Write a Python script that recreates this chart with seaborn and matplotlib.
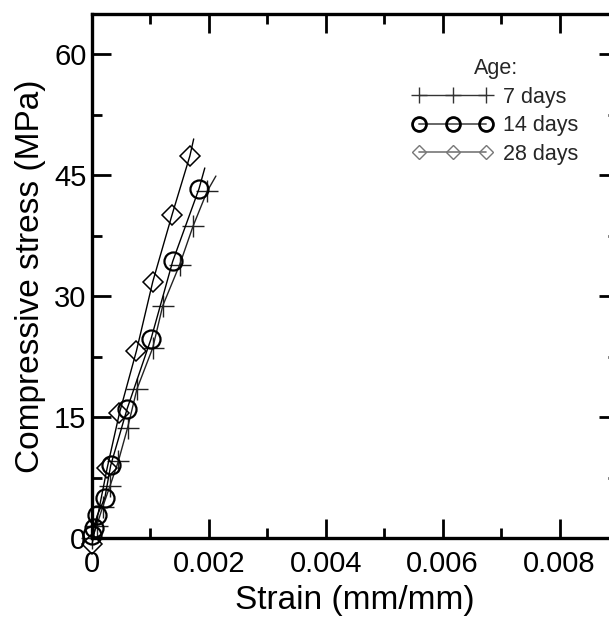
import matplotlib
matplotlib.use('Agg')
import matplotlib.pyplot as plt
import seaborn as sns
import pandas as pd
from matplotlib.lines import Line2D
from matplotlib.ticker import MultipleLocator, FixedFormatter, FixedLocator

sns.set_theme(style='ticks')
plt.rcParams['font.family'] = ['Liberation Sans', 'DejaVu Sans']

# ---- data ----
strain_7d = [0.0, 0.00008, 0.00018, 0.00031, 0.00045, 0.00061, 0.00077, 0.00104, 0.00121, 0.00150, 0.00173, 0.00197, 0.00212]
stress_7d = [0.0, 1.5, 3.8, 6.5, 9.5, 13.7, 18.5, 23.6, 28.8, 33.9, 38.7, 43.0, 44.9]

strain_14d = [0.0, 0.00003, 0.00009, 0.00022, 0.00032, 0.00060, 0.00101, 0.00138, 0.00183, 0.00193]
stress_14d = [0.4, 1.3, 2.8, 5.0, 9.0, 16.0, 24.7, 34.3, 43.3, 45.9]

strain_28d = [0.0, 0.00026, 0.00047, 0.00076, 0.00104, 0.00137, 0.001675, 0.00174]
stress_28d = [-0.8, 8.7, 15.5, 23.2, 31.8, 40.1, 47.4, 49.5]

age_labels = ['7 days', '14 days', '28 days']
x_ticks = [0, 0.002, 0.004, 0.006, 0.008]
x_ticklabels = ['0', '0.002', '0.004', '0.006', '0.008']
y_ticks = [0, 15, 30, 45, 60]
y_ticklabels = ['0', '15', '30', '45', '60']

fig = plt.figure(figsize=(6.09, 6.17), dpi=100)
ax = fig.add_axes([92/609, 1 - 538/617, (618-92)/609, (538-14)/617])

def draw(xs, ys, marker, ms, mew, color, mfc):
    df = pd.DataFrame({'x': xs, 'y': ys})
    sns.lineplot(data=df, x='x', y='y', ax=ax, sort=False, estimator=None,
                 color=color, lw=1.0, marker=marker, markersize=ms,
                 markeredgewidth=mew, markeredgecolor=color, markerfacecolor=mfc,
                 markevery=list(range(len(xs) - 1)), clip_on=False, legend=False)

draw(strain_7d, stress_7d, '+', 16, 1.0, '#222222', 'none')
draw(strain_14d, stress_14d, 'o', 13, 1.6, 'black', 'none')
draw(strain_28d, stress_28d, 'D', 10, 1.1, 'black', 'none')

ax.set_xlim(0, 0.009)
ax.set_ylim(0, 65)
ax.xaxis.set_major_locator(FixedLocator(x_ticks))
ax.xaxis.set_major_formatter(FixedFormatter(x_ticklabels))
ax.xaxis.set_minor_locator(MultipleLocator(0.001))
ax.yaxis.set_major_locator(FixedLocator(y_ticks))
ax.yaxis.set_major_formatter(FixedFormatter(y_ticklabels))
ax.yaxis.set_minor_locator(MultipleLocator(7.5))

for s in ax.spines.values():
    s.set_linewidth(2.4)
    s.set_color('black')
    s.set_visible(True)
ax.tick_params(which='both', direction='in', top=True, right=True, colors='black', width=2.0)
ax.tick_params(which='major', length=14, labelsize=21)
ax.tick_params(axis='x', which='major', pad=9)
ax.tick_params(axis='y', which='major', pad=4)
ax.tick_params(which='minor', length=7)
ax.set_facecolor('white')

ax.set_xlabel('Strain (mm/mm)', fontsize=24, labelpad=5, color='black')
ax.set_ylabel('Compressive stress (MPa)', fontsize=24, labelpad=6, color='black')

handles = [
    Line2D([], [], color='#333333', lw=1.0, marker='+', markersize=12, markeredgewidth=1.0),
    Line2D([], [], color='#666666', lw=1.4, marker='o', markersize=10, markeredgewidth=2.0,
           markeredgecolor='black', markerfacecolor='none'),
    Line2D([], [], color='#777777', lw=1.2, marker='D', markersize=7, markeredgewidth=1.0,
           markeredgecolor='#777777', markerfacecolor='none'),
]
leg = ax.legend(handles, age_labels, title='Age:', loc='upper left',
                bbox_to_anchor=((413 - 92) / 526, 1 - (58 - 14) / 524),
                frameon=False, fontsize=15.5, title_fontsize=15.5, numpoints=3,
                handlelength=3.7, handletextpad=0.5, labelspacing=0.35,
                borderaxespad=0, borderpad=0)

fig.savefig('out.png', dpi=100, facecolor='white')
